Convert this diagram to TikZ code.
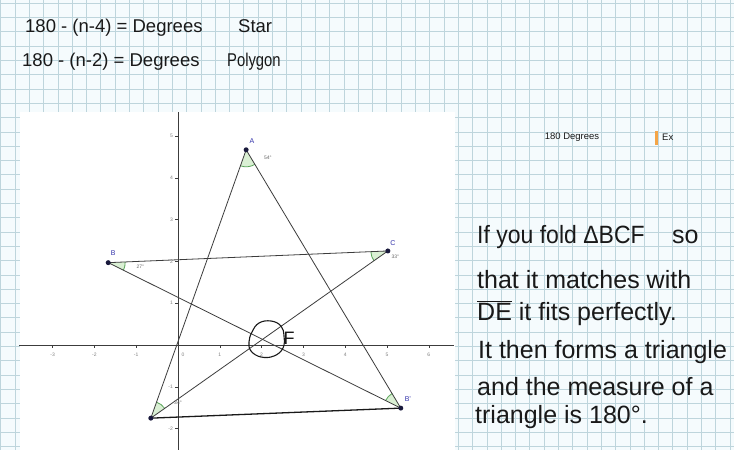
\documentclass[tikz,border=0pt]{standalone}
\usepackage{fontspec}
\setmainfont{Liberation Sans}
\usetikzlibrary{angles}
\definecolor{gridc}{RGB}{190,213,220}
\definecolor{paper}{RGB}{245,251,253}
\definecolor{ink}{RGB}{25,25,25}
\definecolor{ptblue}{RGB}{50,50,170}
\definecolor{ptdot}{RGB}{25,25,60}
\definecolor{anggreen}{RGB}{90,165,90}
\definecolor{angfill}{RGB}{218,240,212}
\definecolor{axisc}{RGB}{60,60,60}
\definecolor{cursorc}{RGB}{245,165,70}
\begin{document}
\begin{tikzpicture}[x=1pt,y=-1pt,
  gridline/.style={draw=gridc, line width=0.7pt},
  hand/.style={anchor=west, inner sep=0pt, text=ink, font=\fontsize{25}{25}\selectfont},
  toptext/.style={anchor=west, inner sep=0pt, text=ink, font=\fontsize{18.5}{18.5}\selectfont},
  starline/.style={draw=axisc, line width=0.8pt},
  handline/.style={draw=ink, line width=1.3pt},
  axisline/.style={draw=axisc, line width=0.9pt},
  ticklab/.style={font=\fontsize{5}{5}\selectfont, text=gray, inner sep=0pt},
  ptlabel/.style={font=\fontsize{7}{7}\selectfont, text=ptblue, inner sep=0pt},
  angmark/.style={draw=anggreen, fill=angfill, line width=0.8pt, angle radius=17pt},
  anglab/.style={font=\fontsize{5}{5}\selectfont, text=gray!80!black, inner sep=0pt},
  dot/.style={circle, fill=ptdot, inner sep=0pt, minimum size=5pt}
]
\fill[paper] (0,0) rectangle (734,450);
\useasboundingbox (0,0) rectangle (734,450);
\foreach \i in {0,...,51} \draw[gridline] ({0.7+14.3*\i},0) -- ++(0,450);
\foreach \j in {0,...,31} \draw[gridline] (0,{3.2+14.3*\j}) -- ++(734,0);
\fill[white] (20,112) rectangle (455,450);

\begin{scope}[shift={(178,345)}, x=41.8pt, y=41.8pt]
  \draw[axisline] (-3.8,0) -- (6.6,0);
  \draw[axisline] (0,-2.5) -- (0,5.57);
  \foreach \k in {-3,-2,-1,1,2,3,4,5,6} {
    \draw[axisc, line width=0.5pt] (\k,0) -- (\k,-0.07);
    \node[ticklab] (xl\k) at (\k,-0.24) {\k};
  }
  \node[ticklab] (xl0) at (0.12,-0.24) {0};
  \foreach \k in {-2,-1,1,2,3,4,5} {
    \draw[axisc, line width=0.5pt] (0,\k) -- (-0.07,\k);
    \node[ticklab, anchor=east] (yl\k) at (-0.12,\k) {\k};
  }
  \coordinate (A) at (1.63,4.67);
  \coordinate (B) at (-1.67,1.97);
  \coordinate (C) at (5.02,2.25);
  \coordinate (D) at (-0.65,-1.75);
  \coordinate (Bp) at (5.33,-1.51);
  \pic[angmark] {angle = D--A--Bp};
  \pic[angmark] {angle = Bp--B--C};
  \pic[angmark] {angle = B--C--D};
  \pic[angmark] {angle = C--D--A};
  \pic[angmark] {angle = A--Bp--B};
  \draw[starline] (A) -- (Bp);
  \draw[starline] (Bp) -- (B);
  \draw[starline] (B) -- (C);
  \draw[starline] (C) -- (D);
  \draw[starline] (D) -- (A);
  \draw[handline] (D) -- (Bp);
  \node[anglab] (aA) at (2.15,4.47) {54°};
  \node[anglab] (aB) at (-0.9,1.88) {27°};
  \node[anglab] (aC) at (5.2,2.12) {33°};
  \node[anglab] (aD) at (0.0,-1.38) {34°};
  \node[dot] (pA) at (A) {};
  \node[dot] (pB) at (B) {};
  \node[dot] (pC) at (C) {};
  \node[dot] (pD) at (D) {};
  \node[dot] (pBp) at (Bp) {};
  \node[ptlabel] (lA) at (1.77,4.88) {A};
  \node[ptlabel] (lB) at (-1.55,2.2) {B};
  \node[ptlabel] (lC) at (5.14,2.44) {C};
  \node[ptlabel] (lBp) at (5.5,-1.29) {B'};
\end{scope}

% hand-drawn scribble around the intersection F
\draw[ink, line width=1.1pt] plot[smooth cycle, tension=0.7] coordinates {(252,332) (259,323) (271,321) (281,326) (284,336) (283,348) (274,356) (261,357) (251,351) (249,342)};
\node[font=\fontsize{18}{18}\selectfont, text=ink, inner sep=0pt] (F) at (289,338) {F};

% top formulas
\node[toptext] (t1) at (25,28) {180 - (n-4) = Degrees};
\node[toptext] (t1b) at (238,26) {Star};
\node[toptext] (t2) at (22,62) {180 - (n-2) = Degrees};
\node[toptext] (t2b) at (227,62) {\scalebox{0.8}[1]{Polygon}};

% GeoGebra text
\node[font=\fontsize{9.5}{9.5}\selectfont, text=gray!20!black, inner sep=0pt] (deg) at (572,137) {180 Degrees};
\node[fill=cursorc, minimum width=3pt, minimum height=14pt, inner sep=0pt] (cur) at (656.5,138) {};
\node[anchor=west, font=\fontsize{9.5}{9.5}\selectfont, text=gray!20!black, inner sep=0pt] (ex) at (662,137) {Ex};

% right handwritten explanation
\node[hand] (r1) at (477,237) {\scalebox{0.92}[1]{If you fold ΔBCF}};
\node[hand] (r1b) at (672,237) {so};
\node[hand] (r2) at (477,280) {that it matches with};
\node[hand] (r3) at (477,313) {$\overline{\mbox{DE}}$ it fits perfectly.};
\node[hand] (r4) at (478,352) {It then forms a triangle};
\node[hand] (r5) at (477,387) {and the measure of a};
\node[hand] (r6) at (475,417) {triangle is 180°.};
\end{tikzpicture}
\end{document}
